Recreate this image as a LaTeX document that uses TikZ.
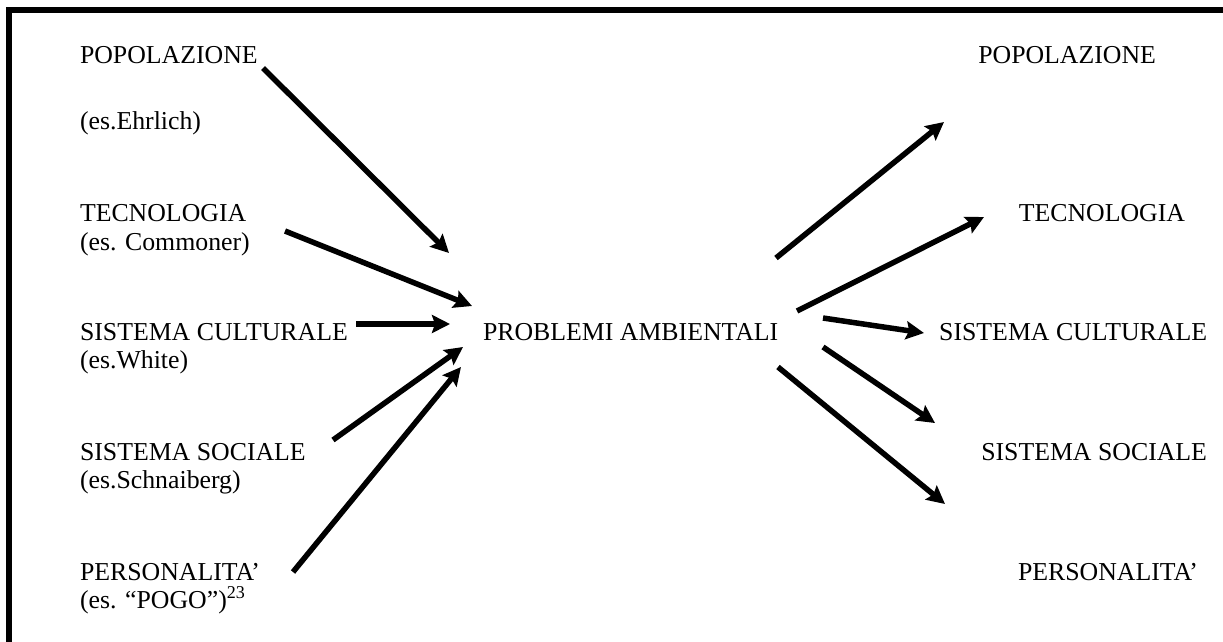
\documentclass[tikz,border=0pt]{standalone}
\usepackage{fontspec}
\setmainfont{Liberation Serif}
\usetikzlibrary{arrows.meta}
\tikzset{
  lbl/.style={inner sep=0pt, outer sep=0pt, font=\fontsize{25.8}{28}\selectfont},
  arr/.style={line width=5.5pt, -{Stealth[length=18pt,width=18pt,inset=3pt]}},
  frameline/.style={line width=6pt}
}
\begin{document}
\begin{tikzpicture}[x=1pt,y=-1pt]
\useasboundingbox (0,0) rectangle (1223,641);
\draw[frameline] (9,650) -- (9,10) -- (1230,10);

% left column
\node[lbl,anchor=base west] (lpop) at (80,63) {POPOLAZIONE};
\node[lbl,anchor=base west] (lpopes) at (80,129) {(es.Ehrlich)};
\node[lbl,anchor=base west] (ltec) at (80,221) {TECNOLOGIA};
\node[lbl,anchor=base west] (lteces) at (80,250) {(es. Commoner)};
\node[lbl,anchor=base west] (lcul) at (80,340) {SISTEMA CULTURALE};
\node[lbl,anchor=base west] (lcules) at (80,368) {(es.White)};
\node[lbl,anchor=base west] (lsoc) at (80,460) {SISTEMA SOCIALE};
\node[lbl,anchor=base west] (lsoces) at (80,488) {(es.Schnaiberg)};
\node[lbl,anchor=base west] (lper) at (80,580) {PERSONALITA’};
\node[lbl,anchor=base west] (lperes) at (80,608) {(es. “POGO”)\textsuperscript{23}};

% centre
\node[lbl,anchor=base west] (prob) at (483,340) {PROBLEMI AMBIENTALI};

% right column
\node[lbl,anchor=base east] (rpop) at (1156,63) {POPOLAZIONE};
\node[lbl,anchor=base east] (rtec) at (1185,221) {TECNOLOGIA};
\node[lbl,anchor=base east] (rcul) at (1207,340) {SISTEMA CULTURALE};
\node[lbl,anchor=base east] (rsoc) at (1207,460) {SISTEMA SOCIALE};
\node[lbl,anchor=base east] (rper) at (1198,580) {PERSONALITA’};

% arrow end points
\coordinate (a1s) at (263,68);  \coordinate (a1e) at (449,253);
\coordinate (a2s) at (285,231); \coordinate (a2e) at (472,306);
\coordinate (a3s) at (356,324); \coordinate (a3e) at (450,324);
\coordinate (a4s) at (333,440); \coordinate (a4e) at (463,347);
\coordinate (a5s) at (293,572); \coordinate (a5e) at (461,367);

\coordinate (b1s) at (776,258); \coordinate (b1e) at (944,122);
\coordinate (b2s) at (797,311); \coordinate (b2e) at (984,217);
\coordinate (b3s) at (823,318); \coordinate (b3e) at (924,333);
\coordinate (b4s) at (823,347); \coordinate (b4e) at (935,423);
\coordinate (b5s) at (778,367); \coordinate (b5e) at (945,504);

\draw[arr] (a1s) -- (a1e);
\draw[arr] (a2s) -- (a2e);
\draw[arr] (a3s) -- (a3e);
\draw[arr] (a4s) -- (a4e);
\draw[arr] (a5s) -- (a5e);
\draw[arr] (b1s) -- (b1e);
\draw[arr] (b2s) -- (b2e);
\draw[arr] (b3s) -- (b3e);
\draw[arr] (b4s) -- (b4e);
\draw[arr] (b5s) -- (b5e);
\end{tikzpicture}
\end{document}
